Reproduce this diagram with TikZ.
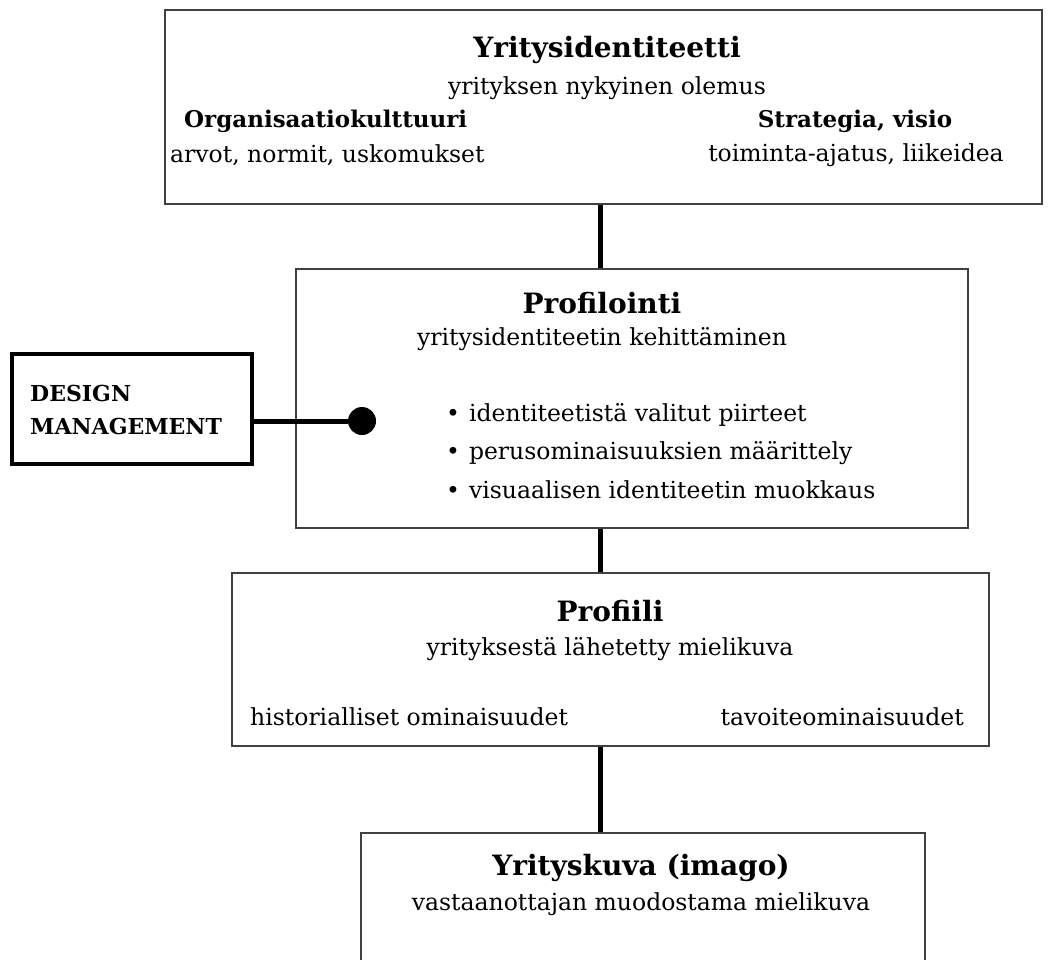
\documentclass[tikz,border=0pt]{standalone}
\usepackage{fontspec}
\setmainfont{DejaVu Serif}
\usetikzlibrary{positioning}

\begin{document}
\begin{tikzpicture}[
  x=1pt, y=-1pt,
  box/.style={draw=black!75, line width=2pt, fill=white, inner sep=0pt},
  dmbox/.style={draw=black, line width=4pt, fill=white, inner sep=0pt},
  conn/.style={line width=5pt, black},
  dot/.style={circle, fill=black, minimum size=28pt, inner sep=0pt},
  title/.style={font=\fontsize{28}{33}\selectfont\bfseries, inner sep=0pt},
  head/.style={font=\fontsize{23}{28}\selectfont\bfseries, inner sep=0pt},
  sub/.style={font=\fontsize{23.5}{28}\selectfont, inner sep=0pt},
  dmtext/.style={font=\fontsize{22}{33}\selectfont\bfseries, align=left, inner sep=0pt}
]
\useasboundingbox (0,0) rectangle (1050,959);
\coordinate (axis) at (600,0);

% boxes
\node[box, minimum width=877pt, minimum height=194pt] (ident) at (603.5,107) {};
\node[box, minimum width=672pt, minimum height=259pt] (prof) at (632,398.5) {};
\node[box, minimum width=757pt, minimum height=173pt] (profiili) at (610.5,659.5) {};
\node[box, minimum width=564pt, minimum height=197pt] (imago) at (643,931.5) {};
\node[dmbox, minimum width=240pt, minimum height=110pt] (dm) at (132,409) {};

% Yritysidentiteetti
\node[title] (identT) at (607,50) {Yritysidentiteetti};
\node[sub] (identS) at (607,88) {yrityksen nykyinen olemus};
\node[head, anchor=west] (orgH) at (184,121) {Organisaatiokulttuuri};
\node[sub, anchor=west] (orgS) at (170,155) {arvot, normit, uskomukset};
\node[head] (strH) at (855,121) {Strategia, visio};
\node[sub] (strS) at (856,155) {toiminta-ajatus, liikeidea};

% Profilointi
\node[title] (profT) at (602,303) {Profilointi};
\node[sub] (profS) at (602,339) {yritysidentiteetin kehittäminen};
\node[sub, anchor=west] (b1) at (446,415) {\textbullet\hspace{9pt}identiteetistä valitut piirteet};
\node[sub, anchor=west] (b2) at (446,453) {\textbullet\hspace{9pt}perusominaisuuksien määrittely};
\node[sub, anchor=west] (b3) at (446,490) {\textbullet\hspace{9pt}visuaalisen identiteetin muokkaus};

% Profiili
\node[title] (profiiliT) at (610,611) {Profiili};
\node[sub] (profiiliS) at (610,649) {yrityksestä lähetetty mielikuva};
\node[sub, anchor=west] (hist) at (250,717) {historialliset ominaisuudet};
\node[sub, anchor=east] (tav) at (964,717) {tavoiteominaisuudet};

% Yrityskuva
\node[title] (imagoT) at (641,868) {Yrityskuva (imago)};
\node[sub] (imagoS) at (641,904) {vastaanottajan muodostama mielikuva};

% design management
\node[dmtext, anchor=west] (dmT) at (30,410) {DESIGN\\MANAGEMENT};
\node[dot] (pin) at (362,421) {};

% connectors
\draw[conn] (ident.south -| axis) -- (prof.north -| axis);
\draw[conn] (prof.south -| axis) -- (profiili.north -| axis);
\draw[conn] (profiili.south -| axis) -- (imago.north -| axis);
\draw[conn] (dm.east |- pin) -- (pin);
\end{tikzpicture}
\end{document}
